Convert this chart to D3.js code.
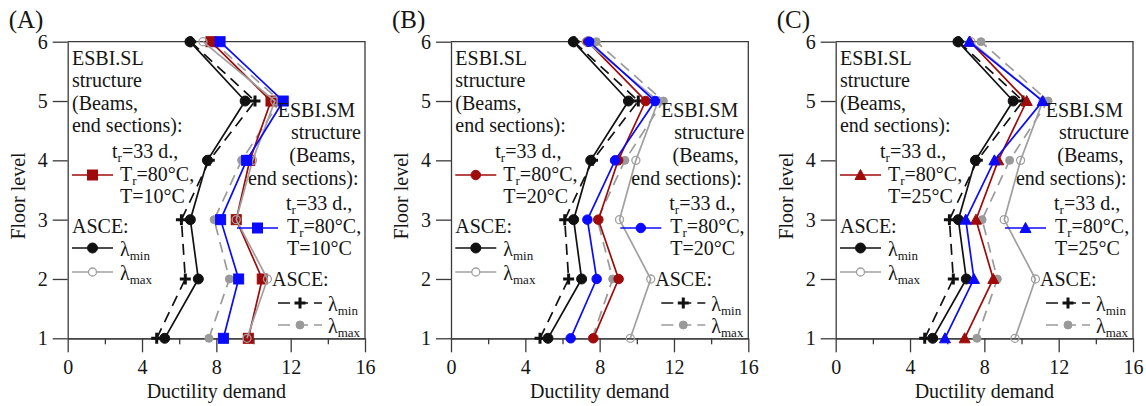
<!DOCTYPE html>
<html><head><meta charset="utf-8">
<script src="https://cdn.jsdelivr.net/npm/d3@7"></script>
<style>
body{margin:0;background:#fff;}
</style></head>
<body><svg id="c" width="1146" height="406" font-family="Liberation Serif, Times New Roman, Times, serif"></svg>
<script>
// ---------- data ----------
const floors = [1, 2, 3, 4, 5, 6];
const xTicks = [0, 4, 8, 12, 16];
const xMinorTicks = [2, 6, 10, 14];
const panelLabels = ["(A)", "(B)", "(C)"];
const panelTemps = ["10", "20", "25"];
const panelMarkers = ["square", "circle", "triangle"];
// ASCE references (same in every panel), floors 1..6
const asceSLmin = [5.22, 7.03, 6.60, 7.52, 9.55, 6.58];
const asceSLmax = [9.65, 10.75, 9.07, 9.95, 11.15, 7.28];
const asceSMmin = [4.79, 6.33, 6.12, 7.62, 10.08, 6.62];
const asceSMmax = [7.60, 8.70, 7.88, 9.36, 11.43, 7.82];
// ESBI.SL structure (red) per panel
const slA = [9.72, 10.47, 9.07, 9.80, 10.94, 7.71];
const slB = [7.66, 9.02, 7.93, 9.00, 10.48, 7.35];
const slC = [6.94, 8.48, 7.55, 8.75, 10.28, 7.23];
// ESBI.SM structure (blue) per panel
const smA = [8.38, 9.20, 8.23, 9.63, 11.60, 8.20];
const smB = [6.44, 7.84, 7.34, 8.83, 10.98, 7.44];
const smC = [5.88, 7.44, 7.00, 8.54, 11.14, 7.19];
const slSeries = [slA, slB, slC];
const smSeries = [smA, smB, smC];

// ---------- layout ----------
const FONT = "Liberation Serif, Times New Roman, Times, serif";
const panelX = [67.7, 451, 835.7];
const plotTop = 41.7, W = 297.3, H = 296.6;
const RED = "#a00a0a", BLUE = "#0a0aff", GRAY = "#a0a0a0", GRAYF = "#9a9a9a", BLACK = "#111";
const TXT = "#151515";

const svg = d3.select("#c");
const x = d3.scaleLinear().domain([0, 16]).range([0, W]);
const y = d3.scaleLinear().domain([1, 6]).range([H, 0]);

function txt(g, xx, yy, s, size) {
  return g.append("text").attr("x", xx).attr("y", yy).attr("font-family", FONT)
    .attr("font-size", (size || 20) + "px").attr("fill", TXT).text(s || null);
}

function marker(g, type, cx, cy, opt) {
  const s = opt.size || 10;
  if (type === "square") {
    g.append("rect").attr("x", cx - s/2).attr("y", cy - s/2).attr("width", s).attr("height", s)
      .attr("fill", opt.fill).attr("stroke", opt.stroke || opt.fill).attr("stroke-width", 1);
  } else if (type === "triangle") {
    g.append("path").attr("d", `M${cx},${cy - s*0.55}L${cx + s*0.55},${cy + s*0.45}L${cx - s*0.55},${cy + s*0.45}Z`)
      .attr("fill", opt.fill).attr("stroke", opt.stroke || opt.fill).attr("stroke-width", 1);
  } else if (type === "plus") {
    g.append("path").attr("d", `M${cx - s/2},${cy}H${cx + s/2}M${cx},${cy - s/2}V${cy + s/2}`)
      .attr("stroke", opt.stroke).attr("stroke-width", 3).attr("fill", "none");
  } else {
    g.append("circle").attr("cx", cx).attr("cy", cy).attr("r", s/2)
      .attr("fill", opt.fill).attr("stroke", opt.stroke || opt.fill).attr("stroke-width", opt.sw || 1);
  }
}

function series(g, vals, color, dash, mtype, mopt) {
  const pts = floors.map((f, i) => [x(vals[i]), y(f)]);
  g.append("path").attr("d", d3.line()(pts)).attr("fill", "none")
    .attr("stroke", color).attr("stroke-width", 1.7)
    .attr("stroke-dasharray", dash || null);
  pts.forEach(p => marker(g, mtype, p[0], p[1], mopt));
}

function sub(textSel, main, subscript, rest) {
  textSel.append("tspan").text(main);
  textSel.append("tspan").attr("font-size", "13px").attr("dy", 4).text(subscript);
  if (rest) textSel.append("tspan").attr("dy", -4).text(rest);
}

function legendItem(g, x1, x2, yy, color, dash, mtype, mopt) {
  g.append("line").attr("x1", x1).attr("x2", x2).attr("y1", yy).attr("y2", yy)
    .attr("stroke", color).attr("stroke-width", 1.7).attr("stroke-dasharray", dash || null);
  marker(g, mtype, (x1 + x2) / 2, yy, mopt);
}

panelX.forEach((px, k) => {
  const g = svg.append("g").attr("transform", `translate(${px},${plotTop})`);
  const mt = panelMarkers[k];
  const msz = mt === "square" ? 10 : (mt === "triangle" ? 10 : 9.5);

  // axes
  const ax = g.append("g").attr("transform", `translate(0,${H})`)
    .call(d3.axisBottom(x).tickValues(xTicks).tickSize(14).tickPadding(8).tickSizeOuter(0));
  const axm = g.append("g").attr("transform", `translate(0,${H})`)
    .call(d3.axisBottom(x).tickValues(xMinorTicks).tickSize(6).tickFormat("").tickSizeOuter(0));
  const ay = g.append("g")
    .call(d3.axisLeft(y).tickValues(floors).tickSize(15).tickPadding(5).tickFormat(d3.format("d")).tickSizeOuter(0));
  [ax, axm, ay].forEach(a => {
    a.attr("font-family", FONT).attr("font-size", 20);
    a.selectAll("path,line").attr("stroke", "#3a3a3a").attr("stroke-width", 1.3);
    a.selectAll("text").attr("font-size", "20px").attr("fill", TXT).attr("font-family", FONT);
  });
  // top and right frame
  g.append("path").attr("d", `M0,0H${W}V${H}`).attr("fill", "none").attr("stroke", "#3a3a3a").attr("stroke-width", 1.3);

  // data series
  series(g, asceSMmin, BLACK, "11,7", "plus", {stroke: BLACK, size: 11});
  series(g, asceSMmax, GRAYF, "11,7", "circle", {fill: GRAYF, size: 8});
  series(g, slSeries[k], RED, null, mt, {fill: RED, size: msz});
  series(g, asceSLmax, GRAY, null, "circle", {fill: "none", stroke: GRAY, size: 8, sw: 1.3});
  series(g, asceSLmin, BLACK, null, "circle", {fill: BLACK, size: 10});
  series(g, smSeries[k], BLUE, null, mt, {fill: BLUE, size: msz});

  // labels
  txt(g, -59, -14, panelLabels[k], 25);
  txt(g, 0, 0, "Floor level", 20).attr("x", null).attr("y", null)
    .attr("transform", `translate(-50,${H/2 + 6}) rotate(-90)`)
    .attr("text-anchor", "middle").attr("dy", "0.35em");
  txt(g, W/2, 356, "Ductility demand", 20).attr("text-anchor", "middle");

  const T = panelTemps[k];
  // left legend (ESBI.SL)
  const L = g.append("g");
  ["ESBI.SL", "structure", "(Beams,", "end sections):"].forEach((s, i) => txt(L, 4.3, 23.3 + i * 22.4, s));
  sub(txt(L, 44.3, 116.3), "t", "r", "=33 d.,");
  sub(txt(L, 52.3, 139.5), "T", "r", "=80°C,");
  txt(L, 52.3, 161.5, `T=${T}°C`);
  legendItem(L, 4.3, 45.3, 133.3, RED, null, mt, {fill: RED, size: msz});
  txt(L, 4.3, 191.3, "ASCE:");
  legendItem(L, 4.3, 45.3, 206.3, BLACK, null, "circle", {fill: BLACK, size: 10});
  sub(txt(L, 52.3, 214.3), "λ", "min");
  legendItem(L, 4.3, 45.3, 230.3, GRAY, null, "circle", {fill: "#fff", stroke: GRAY, size: 8, sw: 1.3});
  sub(txt(L, 52.3, 238.3), "λ", "max");

  // right legend (ESBI.SM)
  const R = g.append("g");
  txt(R, 210, 75, "ESBI.SM");
  txt(R, 223.3, 97, "structure");
  txt(R, 221.6, 120.3, "(Beams,");
  txt(R, 180.3, 143.3, "end sections):");
  sub(txt(R, 218.3, 168.3), "t", "r", "=33 d.,");
  sub(txt(R, 219.3, 191.3), "T", "r", "=80°C,");
  txt(R, 219.3, 213.3, `T=${T}°C`);
  legendItem(R, 169.3, 210.3, 186.3, BLUE, null, mt, {fill: BLUE, size: msz});
  txt(R, 204.3, 244.3, "ASCE:");
  legendItem(R, 210.3, 254.3, 261.3, BLACK, "12,6", "plus", {stroke: BLACK, size: 11});
  sub(txt(R, 260.3, 269.3), "λ", "min");
  legendItem(R, 210.3, 254.3, 283.3, GRAYF, "12,6", "circle", {fill: GRAYF, size: 8});
  sub(txt(R, 260.3, 291.3), "λ", "max");
});
</script></body></html>
